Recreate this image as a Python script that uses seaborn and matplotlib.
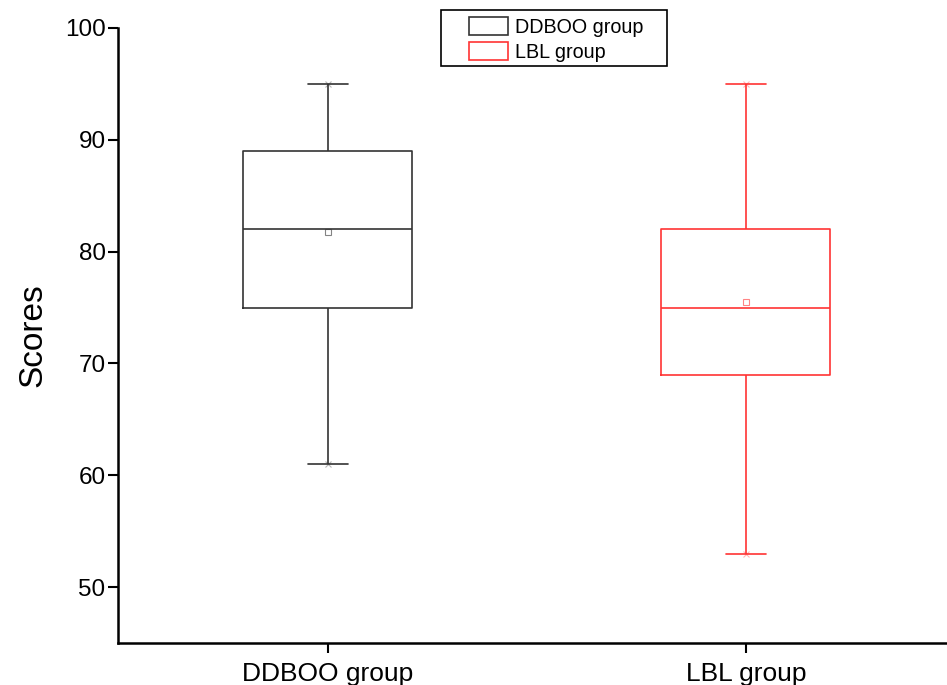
import matplotlib
matplotlib.use("Agg")
import matplotlib.pyplot as plt
import seaborn as sns
import pandas as pd
from matplotlib.patches import Patch, Rectangle

groups = ["DDBOO group", "LBL group"]
mins = [61, 53]
q1s = [75, 69]
medians = [82, 75]
q3s = [89, 82]
maxs = [95, 95]
means = [81.8, 75.5]
colors = ["#333333", "#FF3333"]
yticks = [50, 60, 70, 80, 90, 100]

sns.set_theme(style="ticks")
plt.rcParams["font.family"] = ["Liberation Sans", "DejaVu Sans"]
plt.rcParams["text.color"] = "black"
plt.rcParams["axes.labelcolor"] = "black"
plt.rcParams["xtick.color"] = "black"
plt.rcParams["ytick.color"] = "black"

rows = []
for g, mn, a, m, b, mx in zip(groups, mins, q1s, medians, q3s, maxs):
    for v in [mn, a, a, m, b, b, mx]:
        rows.append({"group": g, "score": v})
df = pd.DataFrame(rows)

fig = plt.figure(figsize=(9.47, 6.85), dpi=100)
ax = fig.add_axes([118 / 947, 1 - 643 / 685, 1 - 118 / 947, (643 - 28) / 685])

sns.boxplot(data=df, x="group", y="score", hue="group", order=groups,
            hue_order=groups, palette=colors, fill=False, whis=(0, 100),
            width=0.404, linewidth=1.2, showfliers=False, legend=False, ax=ax)

# narrower whisker caps
for line in ax.lines:
    xd = line.get_xdata()
    if len(xd) == 2 and xd[0] != xd[1]:
        cx = (xd[0] + xd[1]) / 2
        half = abs(xd[1] - xd[0]) / 2
        if half < 0.15:
            line.set_xdata([cx - 0.048, cx + 0.048])

pos = list(range(len(groups)))
for p, mval, c, mn, mx in zip(pos, means, colors, mins, maxs):
    ax.plot([p], [mval], marker="s", markersize=4, markerfacecolor="none",
            markeredgecolor=c, markeredgewidth=0.8, alpha=0.6, linestyle="none")
    ax.plot([p, p], [mn, mx], marker="x", markersize=5, color=c, alpha=0.35,
            markeredgewidth=0.8, linestyle="none")

ax.set_xlim(-0.502, 1.481)
ax.set_ylim(45, 100)
ax.set_yticks(yticks)
ax.set_yticklabels([str(t) for t in yticks])
ax.set_xlabel("")
ax.set_ylabel("Scores", fontsize=24, labelpad=12)
ax.tick_params(axis="y", labelsize=17.5, length=7.5, width=1.5, direction="out", color="black", pad=1.5)
ax.tick_params(axis="x", labelsize=19, length=7.5, width=1.5, direction="out", color="black", pad=6)
for s in ["top", "right"]:
    ax.spines[s].set_visible(False)
for s in ["left", "bottom"]:
    ax.spines[s].set_linewidth(1.8)
    ax.spines[s].set_color("black")

handles = [Patch(facecolor="none", edgecolor=c, linewidth=1.2, label=g)
           for g, c in zip(groups, colors)]
leg = ax.legend(handles=handles, loc="center", fontsize=14.2, frameon=False,
                handlelength=2.0, handleheight=1.0, borderpad=0.0,
                labelspacing=0.3, handletextpad=0.35, borderaxespad=0)
leg.set_bbox_to_anchor((556 / 947, 1 - 39.5 / 685), transform=fig.transFigure)
fig.patches.append(Rectangle((441 / 947, 1 - 66 / 685), 226 / 947, 56 / 685,
                             transform=fig.transFigure, fill=False,
                             edgecolor="black", linewidth=1.2))

fig.savefig("out.png", dpi=100)
